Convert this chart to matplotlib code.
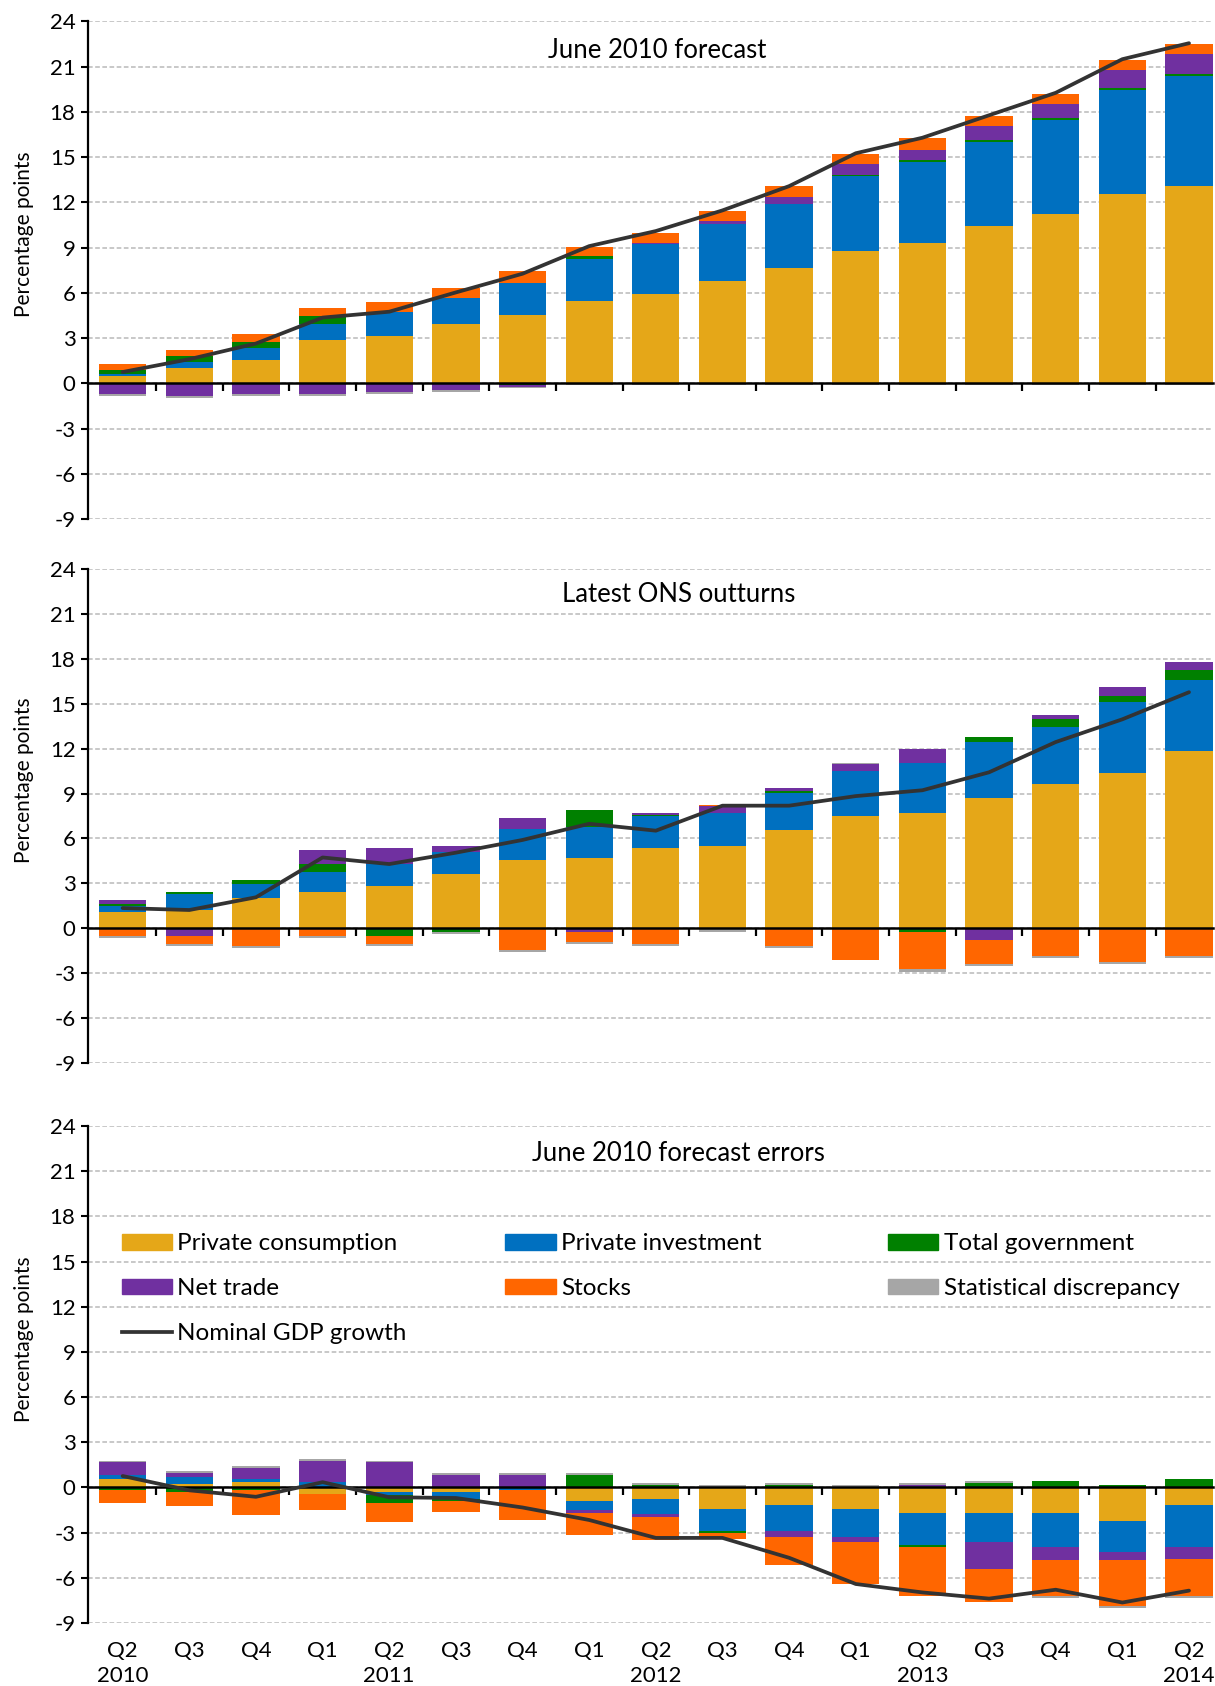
import numpy as np
import matplotlib
matplotlib.use("Agg")
import matplotlib.pyplot as plt
from matplotlib.lines import Line2D
from matplotlib.patches import Patch

plt.rcParams['font.family'] = ['Lato', 'DejaVu Sans']
plt.rcParams['axes.unicode_minus'] = False

quarters = ["Q2", "Q3", "Q4", "Q1", "Q2", "Q3", "Q4", "Q1", "Q2", "Q3", "Q4",
            "Q1", "Q2", "Q3", "Q4", "Q1", "Q2"]
years = ["2010", "", "", "", "2011", "", "", "", "2012", "", "", "", "2013", "", "", "", "2014"]

series_names = ["Private consumption", "Private investment", "Total government",
                "Net trade", "Stocks", "Statistical discrepancy"]
colors = ["#E5A718", "#0070C0", "#008000", "#7030A0", "#FF6600", "#A6A6A6"]
line_name = "Nominal GDP growth"
line_color = "#333333"

# Panel 1: June 2010 forecast
f_cons = [0.46, 1.01, 1.54, 2.87, 3.12, 3.95, 4.5, 5.46, 5.9, 6.79, 7.62, 8.79, 9.32, 10.42, 11.2, 12.53, 13.06]
f_inv = [0.14, 0.41, 0.8, 1.08, 1.61, 1.74, 2.15, 2.8, 3.37, 3.77, 4.27, 4.93, 5.34, 5.6, 6.29, 6.93, 7.34]
f_gov = [0.27, 0.37, 0.39, 0.52, 0.0, 0.0, -0.12, 0.16, 0.0, 0.0, 0.0, 0.12, 0.14, 0.13, 0.13, 0.14, 0.14]
f_nt = [-0.73, -0.87, -0.73, -0.73, -0.57, -0.46, -0.12, 0.0, 0.05, 0.22, 0.5, 0.69, 0.67, 0.9, 0.9, 1.19, 1.3]
f_stk = [0.39, 0.41, 0.55, 0.53, 0.66, 0.64, 0.81, 0.64, 0.68, 0.67, 0.67, 0.66, 0.78, 0.66, 0.66, 0.66, 0.67]
f_sd = [-0.12, -0.12, -0.12, -0.12, -0.12, -0.11, -0.1, -0.1, -0.1, -0.1, -0.1, -0.1, -0.1, -0.1, -0.1, -0.1, -0.1]
f_gdp = [0.75, 1.6, 2.64, 4.36, 4.75, 6.03, 7.27, 9.1, 10.1, 11.47, 13.08, 15.26, 16.29, 17.78, 19.27, 21.5, 22.56]

# Panel 2: Latest ONS outturns
o_cons = [1.08, 1.22, 2.02, 2.41, 2.8, 3.63, 4.55, 4.7, 5.35, 5.49, 6.54, 7.5, 7.73, 8.67, 9.61, 10.4, 11.86]
o_inv = [0.39, 1.05, 0.94, 1.33, 1.49, 1.44, 2.11, 2.07, 2.15, 2.24, 2.52, 3.03, 3.33, 3.74, 3.86, 4.7, 4.71]
o_gov = [0.16, 0.14, 0.25, 0.55, -0.53, -0.23, 0.0, 1.1, 0.07, 0.0, 0.14, 0.0, -0.23, 0.39, 0.53, 0.39, 0.66]
o_nt = [0.25, -0.53, 0.0, 0.92, 1.06, 0.44, 0.68, -0.23, 0.16, 0.41, 0.16, 0.44, 0.94, -0.76, 0.25, 0.66, 0.53]
o_stk = [-0.53, -0.53, -1.2, -0.53, -0.53, 0.0, -1.45, -0.69, -1.06, 0.12, -1.2, -2.11, -2.52, -1.63, -1.86, -2.25, -1.86]
o_sd = [-0.11, -0.11, -0.13, -0.11, -0.11, -0.13, -0.13, -0.14, -0.11, -0.23, -0.13, 0.09, -0.14, -0.13, -0.14, -0.14, -0.14]
o_gdp = [1.35, 1.22, 2.07, 4.73, 4.29, 5.05, 5.9, 6.98, 6.52, 8.19, 8.19, 8.83, 9.22, 10.42, 12.44, 13.96, 15.77]

# Panel 3: June 2010 forecast errors
e_cons = [0.58, 0.2, 0.33, -0.45, -0.32, -0.32, 0.0, -0.88, -0.77, -1.43, -1.15, -1.43, -1.69, -1.69, -1.69, -2.22, -1.15]
e_inv = [0.26, 0.5, 0.23, 0.33, -0.17, -0.43, -0.19, -0.64, -1.02, -1.43, -1.71, -1.87, -2.12, -1.96, -2.27, -2.05, -2.78]
e_gov = [-0.19, -0.32, -0.2, 0.0, -0.51, -0.13, 0.0, 0.84, 0.18, -0.15, 0.13, 0.0, -0.12, 0.28, 0.41, 0.15, 0.56]
e_nt = [0.82, 0.26, 0.71, 1.45, 1.66, 0.84, 0.84, -0.18, -0.15, 0.0, -0.41, -0.35, 0.15, -1.74, -0.89, -0.58, -0.8]
e_stk = [-0.81, -0.91, -1.6, -1.07, -1.3, -0.77, -1.98, -1.43, -1.58, -0.39, -1.86, -2.76, -3.27, -2.22, -2.38, -2.99, -2.45]
e_sd = [0.12, 0.16, 0.13, 0.13, 0.12, 0.15, 0.15, 0.15, 0.13, 0.15, 0.15, 0.15, 0.13, 0.13, -0.13, -0.15, -0.15]
e_gdp = [0.76, -0.19, -0.62, 0.35, -0.65, -0.7, -1.33, -2.16, -3.35, -3.35, -4.67, -6.41, -6.97, -7.38, -6.79, -7.64, -6.85]

panels = [
    ("June 2010 forecast", [f_cons, f_inv, f_gov, f_nt, f_stk, f_sd], f_gdp, 0.506, 22.1),
    ("Latest ONS outturns", [o_cons, o_inv, o_gov, o_nt, o_stk, o_sd], o_gdp, 0.525, 22.3),
    ("June 2010 forecast errors", [e_cons, e_inv, e_gov, e_nt, e_stk, e_sd], e_gdp, 0.525, 22.2),
]

W, H = 1215, 1686
fig = plt.figure(figsize=(W / 100, H / 100), dpi=100)
rects_px = [(21.5, 519), (569, 1063), (1126, 1623)]
left_px, right_px = 88, 1213

x = np.arange(len(quarters))
yticks = np.arange(-9, 25, 3)
axes = []
for (title, comps, gdp, tx, ty), (top, bot) in zip(panels, rects_px):
    ax = fig.add_axes([left_px / W, (H - bot) / H, (right_px - left_px) / W, (bot - top) / H])
    axes.append(ax)
    pos_b = np.zeros(len(x))
    neg_b = np.zeros(len(x))
    for vals, col in zip(comps, colors):
        v = np.array(vals, dtype=float)
        p = np.where(v > 0, v, 0)
        n = np.where(v < 0, v, 0)
        ax.bar(x, p, bottom=pos_b, width=0.71, color=col, zorder=2, linewidth=0)
        ax.bar(x, n, bottom=neg_b, width=0.71, color=col, zorder=2, linewidth=0)
        pos_b += p
        neg_b += n
    ax.plot(x, gdp, color=line_color, lw=2.7, zorder=4, solid_capstyle='round')

    ax.set_ylim(-9, 24)
    ax.set_xlim(-0.52, 16.36)
    ax.set_yticks(yticks)
    ax.set_yticklabels([str(t) for t in yticks], fontsize=16)
    ax.yaxis.grid(True, color='#BFBFBF', linestyle=(0, (2.8, 1.5)), lw=1.2, zorder=0)
    ax.set_axisbelow(True)
    for s in ['top', 'right']:
        ax.spines[s].set_visible(False)
    ax.spines['left'].set_linewidth(1.6)
    ax.spines['bottom'].set_position(('data', 0))
    ax.spines['bottom'].set_linewidth(1.8)
    ax.spines['bottom'].set_zorder(3)
    ax.set_xticks(x[:-1] + 0.5)
    ax.set_xticklabels([])
    ax.tick_params(axis='x', direction='out', length=6, width=1.6)
    ax.tick_params(axis='y', direction='out', length=5, width=1.5, pad=4)
    ax.set_ylabel("Percentage points", fontsize=15)
    ax.yaxis.set_label_coords(-0.048, 0.572)
    ax.annotate(title, xy=(tx, ty), xycoords=('axes fraction', 'data'),
                fontsize=18.5, ha='center', va='center', zorder=5)

ax3 = axes[2]
for xi, q, yr in zip(x, quarters, years):
    ax3.annotate(q, xy=(xi, 0), xycoords=('data', 'axes fraction'), xytext=(0, -20),
                 textcoords='offset points', ha='center', va='center', fontsize=16)
    if yr:
        ax3.annotate(yr, xy=(xi, 0), xycoords=('data', 'axes fraction'), xytext=(0, -38),
                     textcoords='offset points', ha='center', va='center', fontsize=16)

columns = [
    ([Patch(color=colors[0]), Patch(color=colors[3]), Line2D([0], [0], color=line_color, lw=2.7)],
     [series_names[0], series_names[3], line_name], 0.0298),
    ([Patch(color=colors[1]), Patch(color=colors[4])],
     [series_names[1], series_names[4]], 0.371),
    ([Patch(color=colors[2]), Patch(color=colors[5])],
     [series_names[2], series_names[5]], 0.711),
]
legs = []
for hs, ls, lx in columns:
    leg = ax3.legend(hs, ls, ncol=1, loc='upper left', bbox_to_anchor=(lx, 0.784),
                     frameon=False, fontsize=17.5, handlelength=2.08, handleheight=0.6,
                     handletextpad=0.22, labelspacing=0.98, borderpad=0, borderaxespad=0)
    legs.append(leg)
for leg in legs[:-1]:
    ax3.add_artist(leg)

fig.savefig("out.png", dpi=100)
